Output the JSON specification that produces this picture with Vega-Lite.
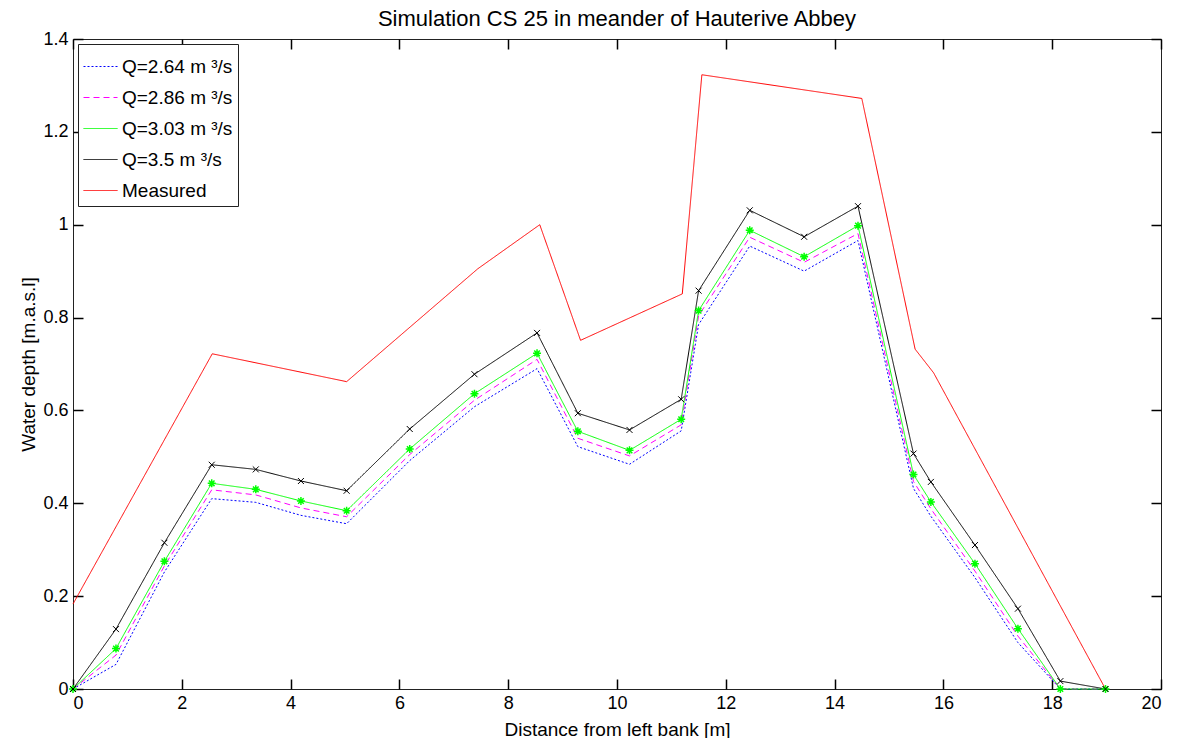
{
  "$schema": "https://vega.github.io/schema/vega-lite/v6.json",
  "width": 1088,
  "height": 650,
  "autosize": "none",
  "padding": {"left": 73, "top": 39, "right": 28, "bottom": 49},
  "background": "white",
  "title": {"text": "Simulation CS 25 in meander of Hauterive Abbey", "font": "Liberation Sans", "fontSize": 22, "fontWeight": "normal", "color": "black", "anchor": "middle", "offset": -1},
  "config": {
    "view": {"stroke": "#222", "strokeWidth": 1},
    "axis": {"grid": false, "domain": false, "offset": -10, "ticks": true, "tickColor": "#000000", "tickWidth": 1.5, "tickOpacity": 1, "labelColor": "black", "titleColor": "black", "labelFont": "Liberation Sans", "titleFont": "Liberation Sans", "labelFontSize": 18, "titleFontSize": 19, "titleFontWeight": "normal", "tickSize": 10, "labelPadding": 5}
  },
  "resolve": {"axis": {"x": "independent", "y": "independent"}},
  "data": {"values": [
    {"s": "Q=2.64 m ³/s", "x": 0, "y": 0},
    {"s": "Q=2.64 m ³/s", "x": 0.79, "y": 0.053},
    {"s": "Q=2.64 m ³/s", "x": 1.68, "y": 0.252},
    {"s": "Q=2.64 m ³/s", "x": 2.55, "y": 0.41},
    {"s": "Q=2.64 m ³/s", "x": 3.36, "y": 0.402},
    {"s": "Q=2.64 m ³/s", "x": 4.19, "y": 0.374},
    {"s": "Q=2.64 m ³/s", "x": 5.03, "y": 0.356},
    {"s": "Q=2.64 m ³/s", "x": 6.19, "y": 0.492},
    {"s": "Q=2.64 m ³/s", "x": 7.38, "y": 0.608},
    {"s": "Q=2.64 m ³/s", "x": 8.53, "y": 0.69},
    {"s": "Q=2.64 m ³/s", "x": 9.28, "y": 0.522},
    {"s": "Q=2.64 m ³/s", "x": 10.23, "y": 0.484},
    {"s": "Q=2.64 m ³/s", "x": 11.18, "y": 0.556},
    {"s": "Q=2.64 m ³/s", "x": 11.5, "y": 0.785},
    {"s": "Q=2.64 m ³/s", "x": 12.44, "y": 0.954},
    {"s": "Q=2.64 m ³/s", "x": 13.44, "y": 0.9},
    {"s": "Q=2.64 m ³/s", "x": 14.43, "y": 0.966},
    {"s": "Q=2.64 m ³/s", "x": 15.45, "y": 0.432},
    {"s": "Q=2.64 m ³/s", "x": 15.77, "y": 0.372},
    {"s": "Q=2.64 m ³/s", "x": 16.58, "y": 0.24},
    {"s": "Q=2.64 m ³/s", "x": 17.37, "y": 0.1},
    {"s": "Q=2.64 m ³/s", "x": 18.15, "y": 0},
    {"s": "Q=2.64 m ³/s", "x": 18.98, "y": 0},
    {"s": "Q=2.86 m ³/s", "x": 0, "y": 0},
    {"s": "Q=2.86 m ³/s", "x": 0.79, "y": 0.073},
    {"s": "Q=2.86 m ³/s", "x": 1.68, "y": 0.265},
    {"s": "Q=2.86 m ³/s", "x": 2.55, "y": 0.429},
    {"s": "Q=2.86 m ³/s", "x": 3.36, "y": 0.418},
    {"s": "Q=2.86 m ³/s", "x": 4.19, "y": 0.39},
    {"s": "Q=2.86 m ³/s", "x": 5.03, "y": 0.371},
    {"s": "Q=2.86 m ³/s", "x": 6.19, "y": 0.505},
    {"s": "Q=2.86 m ³/s", "x": 7.38, "y": 0.622},
    {"s": "Q=2.86 m ³/s", "x": 8.53, "y": 0.71},
    {"s": "Q=2.86 m ³/s", "x": 9.28, "y": 0.54},
    {"s": "Q=2.86 m ³/s", "x": 10.23, "y": 0.502},
    {"s": "Q=2.86 m ³/s", "x": 11.18, "y": 0.569},
    {"s": "Q=2.86 m ³/s", "x": 11.5, "y": 0.804},
    {"s": "Q=2.86 m ³/s", "x": 12.44, "y": 0.973},
    {"s": "Q=2.86 m ³/s", "x": 13.44, "y": 0.919},
    {"s": "Q=2.86 m ³/s", "x": 14.43, "y": 0.981},
    {"s": "Q=2.86 m ³/s", "x": 15.45, "y": 0.447},
    {"s": "Q=2.86 m ³/s", "x": 15.77, "y": 0.388},
    {"s": "Q=2.86 m ³/s", "x": 16.58, "y": 0.254},
    {"s": "Q=2.86 m ³/s", "x": 17.37, "y": 0.114},
    {"s": "Q=2.86 m ³/s", "x": 18.15, "y": 0},
    {"s": "Q=2.86 m ³/s", "x": 18.98, "y": 0},
    {"s": "Q=3.03 m ³/s", "x": 0, "y": 0},
    {"s": "Q=3.03 m ³/s", "x": 0.79, "y": 0.087},
    {"s": "Q=3.03 m ³/s", "x": 1.68, "y": 0.275},
    {"s": "Q=3.03 m ³/s", "x": 2.55, "y": 0.443},
    {"s": "Q=3.03 m ³/s", "x": 3.36, "y": 0.43},
    {"s": "Q=3.03 m ³/s", "x": 4.19, "y": 0.405},
    {"s": "Q=3.03 m ³/s", "x": 5.03, "y": 0.384},
    {"s": "Q=3.03 m ³/s", "x": 6.19, "y": 0.517},
    {"s": "Q=3.03 m ³/s", "x": 7.38, "y": 0.636},
    {"s": "Q=3.03 m ³/s", "x": 8.53, "y": 0.723},
    {"s": "Q=3.03 m ³/s", "x": 9.28, "y": 0.555},
    {"s": "Q=3.03 m ³/s", "x": 10.23, "y": 0.514},
    {"s": "Q=3.03 m ³/s", "x": 11.18, "y": 0.581},
    {"s": "Q=3.03 m ³/s", "x": 11.5, "y": 0.815},
    {"s": "Q=3.03 m ³/s", "x": 12.44, "y": 0.988},
    {"s": "Q=3.03 m ³/s", "x": 13.44, "y": 0.931},
    {"s": "Q=3.03 m ³/s", "x": 14.43, "y": 0.998},
    {"s": "Q=3.03 m ³/s", "x": 15.45, "y": 0.462},
    {"s": "Q=3.03 m ³/s", "x": 15.77, "y": 0.403},
    {"s": "Q=3.03 m ³/s", "x": 16.58, "y": 0.27},
    {"s": "Q=3.03 m ³/s", "x": 17.37, "y": 0.13},
    {"s": "Q=3.03 m ³/s", "x": 18.15, "y": 0},
    {"s": "Q=3.03 m ³/s", "x": 18.98, "y": 0},
    {"s": "Q=3.5 m ³/s", "x": 0, "y": 0},
    {"s": "Q=3.5 m ³/s", "x": 0.79, "y": 0.129},
    {"s": "Q=3.5 m ³/s", "x": 1.68, "y": 0.315},
    {"s": "Q=3.5 m ³/s", "x": 2.55, "y": 0.483},
    {"s": "Q=3.5 m ³/s", "x": 3.36, "y": 0.473},
    {"s": "Q=3.5 m ³/s", "x": 4.19, "y": 0.448},
    {"s": "Q=3.5 m ³/s", "x": 5.03, "y": 0.427},
    {"s": "Q=3.5 m ³/s", "x": 6.19, "y": 0.56},
    {"s": "Q=3.5 m ³/s", "x": 7.38, "y": 0.678},
    {"s": "Q=3.5 m ³/s", "x": 8.53, "y": 0.767},
    {"s": "Q=3.5 m ³/s", "x": 9.28, "y": 0.594},
    {"s": "Q=3.5 m ³/s", "x": 10.23, "y": 0.558},
    {"s": "Q=3.5 m ³/s", "x": 11.18, "y": 0.624},
    {"s": "Q=3.5 m ³/s", "x": 11.5, "y": 0.858},
    {"s": "Q=3.5 m ³/s", "x": 12.44, "y": 1.031},
    {"s": "Q=3.5 m ³/s", "x": 13.44, "y": 0.974},
    {"s": "Q=3.5 m ³/s", "x": 14.43, "y": 1.04},
    {"s": "Q=3.5 m ³/s", "x": 15.45, "y": 0.507},
    {"s": "Q=3.5 m ³/s", "x": 15.77, "y": 0.446},
    {"s": "Q=3.5 m ³/s", "x": 16.58, "y": 0.31},
    {"s": "Q=3.5 m ³/s", "x": 17.37, "y": 0.173},
    {"s": "Q=3.5 m ³/s", "x": 18.15, "y": 0.017},
    {"s": "Q=3.5 m ³/s", "x": 18.98, "y": 0},
    {"s": "Measured", "x": 0, "y": 0.183},
    {"s": "Measured", "x": 2.56, "y": 0.722},
    {"s": "Measured", "x": 5.03, "y": 0.662},
    {"s": "Measured", "x": 7.44, "y": 0.905},
    {"s": "Measured", "x": 8.58, "y": 1.0},
    {"s": "Measured", "x": 9.33, "y": 0.751},
    {"s": "Measured", "x": 11.2, "y": 0.851},
    {"s": "Measured", "x": 11.56, "y": 1.323},
    {"s": "Measured", "x": 14.5, "y": 1.272},
    {"s": "Measured", "x": 15.48, "y": 0.732},
    {"s": "Measured", "x": 15.82, "y": 0.681},
    {"s": "Measured", "x": 18.98, "y": 0}
  ]},
  "layer": [
    {
      "mark": {"type": "line", "strokeWidth": 1},
      "encoding": {
        "x": {"field": "x", "type": "quantitative", "scale": {"domain": [0, 20], "nice": false, "zero": false},
              "axis": {"orient": "bottom", "values": [0, 2, 4, 6, 8, 10, 12, 14, 16, 18, 20], "title": "Distance from left bank [m]", "titlePadding": 8}},
        "y": {"field": "y", "type": "quantitative", "scale": {"domain": [0, 1.4], "nice": false},
              "axis": {"orient": "left", "values": [0, 0.2, 0.4, 0.6, 0.8, 1, 1.2, 1.4], "format": "~g", "title": "Water depth [m.a.s.l]", "titlePadding": 4}},
        "color": {"field": "s", "type": "nominal",
                  "scale": {"domain": ["Q=2.64 m ³/s", "Q=2.86 m ³/s", "Q=3.03 m ³/s", "Q=3.5 m ³/s", "Measured"], "range": ["#0000ff", "#ff00ff", "#00ff00", "#000000", "#ff0000"]},
                  "legend": {"title": null, "orient": "top-left", "offset": 5, "padding": 5, "strokeColor": "#222", "fillColor": "white", "symbolType": "stroke", "symbolSize": 1156, "symbolStrokeWidth": 1, "labelFont": "Liberation Sans", "labelFontSize": 19, "labelColor": "black", "labelOffset": 4, "rowPadding": 3, "labelLimit": 400}},
        "strokeDash": {"field": "s", "type": "nominal",
                  "scale": {"domain": ["Q=2.64 m ³/s", "Q=2.86 m ³/s", "Q=3.03 m ³/s", "Q=3.5 m ³/s", "Measured"], "range": [[2, 2], [6, 4], [1, 0], [1, 0], [1, 0]]},
                  "legend": {"title": null, "orient": "top-left", "offset": 5, "padding": 5, "strokeColor": "#222", "fillColor": "white", "symbolType": "stroke", "symbolSize": 1156, "symbolStrokeWidth": 1, "labelFont": "Liberation Sans", "labelFontSize": 19, "labelColor": "black", "labelOffset": 4, "rowPadding": 3, "labelLimit": 400}}
      }
    },
    {
      "transform": [{"filter": "datum.s === 'Q=3.03 m ³/s'"}],
      "mark": {"type": "point", "shape": "M-1,0L1,0M0,-1L0,1M-0.7,-0.7L0.7,0.7M-0.7,0.7L0.7,-0.7", "filled": false, "color": "#00ff00", "size": 64, "strokeWidth": 1.5, "opacity": 1},
      "encoding": {
        "x": {"field": "x", "type": "quantitative", "axis": {"orient": "top", "labels": false, "title": null, "values": [0, 2, 4, 6, 8, 10, 12, 14, 16, 18, 20]}},
        "y": {"field": "y", "type": "quantitative", "axis": {"orient": "right", "labels": false, "title": null, "values": [0, 0.2, 0.4, 0.6, 0.8, 1, 1.2, 1.4]}}
      }
    },
    {
      "transform": [{"filter": "datum.s === 'Q=3.5 m ³/s'"}],
      "mark": {"type": "point", "shape": "M-1,-1L1,1M-1,1L1,-1", "filled": false, "color": "#000000", "size": 36, "strokeWidth": 1, "opacity": 1},
      "encoding": {
        "x": {"field": "x", "type": "quantitative", "axis": null},
        "y": {"field": "y", "type": "quantitative", "axis": null}
      }
    }
  ]
}
